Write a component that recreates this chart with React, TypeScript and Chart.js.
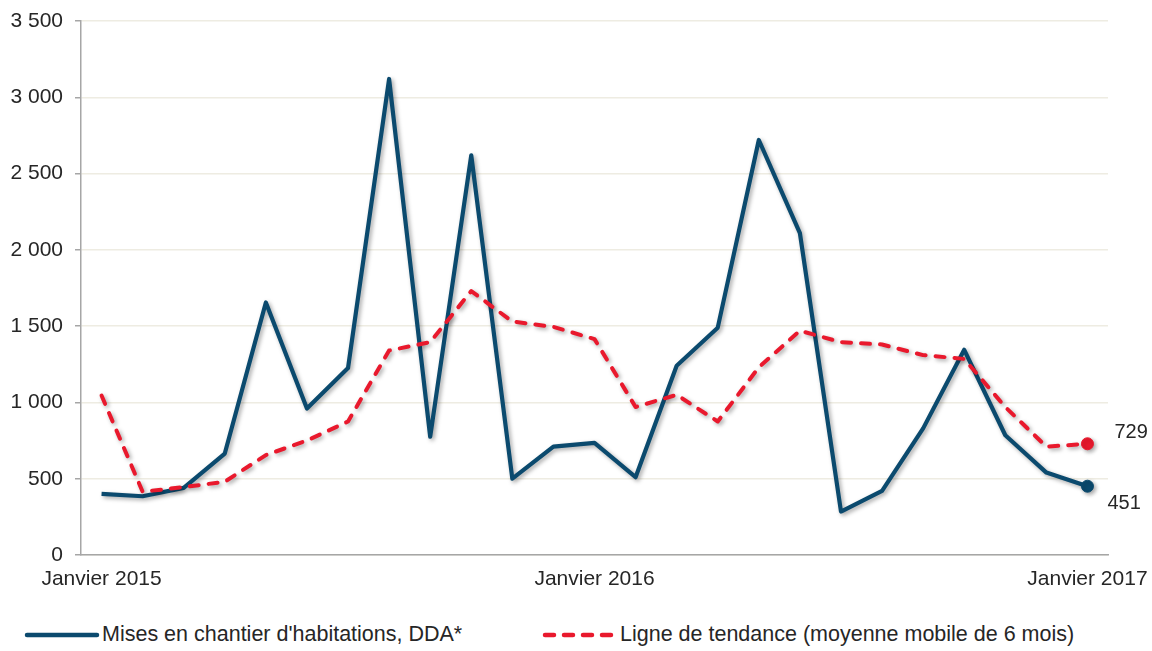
import React, { useEffect, useRef } from "react";
import { Chart, registerables } from "chart.js";

Chart.register(...registerables);

const months: string[] = [
  "Janvier 2015", "Février 2015", "Mars 2015", "Avril 2015", "Mai 2015", "Juin 2015",
  "Juillet 2015", "Août 2015", "Septembre 2015", "Octobre 2015", "Novembre 2015", "Décembre 2015",
  "Janvier 2016", "Février 2016", "Mars 2016", "Avril 2016", "Mai 2016", "Juin 2016",
  "Juillet 2016", "Août 2016", "Septembre 2016", "Octobre 2016", "Novembre 2016", "Décembre 2016",
  "Janvier 2017",
];

const shownTicks: string[] = ["Janvier 2015", "Janvier 2016", "Janvier 2017"];

const misesEnChantier: number[] = [
  400, 385, 440, 665, 1655, 960, 1225, 3120, 775, 2620, 500, 710, 735,
  510, 1240, 1490, 2720, 2110, 285, 420, 830, 1345, 785, 540, 451,
];

const tendance: number[] = [
  1045, 415, 445, 480, 655, 750, 875, 1340, 1395, 1730, 1530, 1495, 1415,
  970, 1050, 875, 1230, 1470, 1395, 1380, 1310, 1285, 970, 710, 729,
];

const seriesNames: string[] = [
  "Mises en chantier d'habitations, DDA*",
  "Ligne de tendance (moyenne mobile de 6 mois)",
];

const BLUE = "#0b4a6e";
const RED = "#e9192d";
const TEXT = "#262626";
const FONT = "'Liberation Sans', Arial, sans-serif";

const fmt = (v: number) => String(v).replace(/\B(?=(\d{3})+(?!\d))/g, " ");

const shadowPlugin = {
  id: "lineShadow",
  beforeDatasetDraw(chart: any) {
    const ctx = chart.ctx;
    ctx.save();
    ctx.shadowColor = "rgba(0,0,0,0.35)";
    ctx.shadowBlur = 4;
    ctx.shadowOffsetX = 2;
    ctx.shadowOffsetY = 2;
  },
  afterDatasetDraw(chart: any) {
    chart.ctx.restore();
  },
};

const endLabelPlugin = {
  id: "endLabels",
  afterDatasetsDraw(chart: any) {
    const ctx = chart.ctx;
    const offsets: { [k: number]: [number, number] } = { 0: [20, 17], 1: [27, -11] };
    ctx.save();
    ctx.font = `20px ${FONT}`;
    ctx.fillStyle = TEXT;
    ctx.textAlign = "left";
    ctx.textBaseline = "middle";
    chart.data.datasets.forEach((ds: any, i: number) => {
      const meta = chart.getDatasetMeta(i);
      const last = meta.data[meta.data.length - 1];
      const v = ds.data[ds.data.length - 1];
      const [dx, dy] = offsets[i];
      ctx.fillText(fmt(v), last.x + dx, last.y + dy);
    });
    ctx.restore();
  },
};

export default function App() {
  const canvasRef = useRef<HTMLCanvasElement | null>(null);

  useEffect(() => {
    document.body.style.margin = "0";
    const canvas = canvasRef.current;
    if (!canvas) return;
    const lastIdx = months.length - 1;
    const chart = new Chart(canvas, {
      type: "line",
      data: {
        labels: months,
        datasets: [
          {
            label: seriesNames[0],
            data: misesEnChantier,
            borderColor: BLUE,
            backgroundColor: BLUE,
            borderWidth: 4.2,
            borderJoinStyle: "round",
            tension: 0,
            pointRadius: (c: any) => (c.dataIndex === lastIdx ? 6 : 0),
            pointHoverRadius: 0,
            pointBackgroundColor: BLUE,
            pointBorderColor: BLUE,
            pointBorderWidth: 1,
            order: 1,
          },
          {
            label: seriesNames[1],
            data: tendance,
            borderColor: RED,
            backgroundColor: RED,
            borderWidth: 4,
            borderDash: [9, 10],
            borderCapStyle: "round",
            borderJoinStyle: "round",
            tension: 0,
            pointRadius: (c: any) => (c.dataIndex === lastIdx ? 6 : 0),
            pointHoverRadius: 0,
            pointBackgroundColor: RED,
            pointBorderColor: RED,
            pointBorderWidth: 1,
            order: 0,
          },
        ],
      },
      options: {
        animation: false,
        responsive: false,
        maintainAspectRatio: false,
        events: [],
        layout: { padding: { top: 21, right: 44, bottom: 0, left: 0 } },
        plugins: {
          legend: { display: false },
          tooltip: { enabled: false },
        },
        scales: {
          x: {
            type: "category",
            offset: true,
            grid: { display: false, drawTicks: false },
            border: { display: true, color: "#a6a6a6", width: 1.5 },
            ticks: {
              autoSkip: false,
              maxRotation: 0,
              minRotation: 0,
              padding: 12,
              color: TEXT,
              font: { family: FONT, size: 21 },
              callback: (_v: any, idx: number) =>
                shownTicks.includes(months[idx]) ? months[idx] : "",
            },
            afterFit: (s: any) => {
              s.height = 45;
              s.paddingLeft = 0;
              s.paddingRight = 0;
            },
          },
          y: {
            min: 0,
            max: 3500,
            grid: {
              color: "#eeece2",
              lineWidth: 1.5,
              drawTicks: true,
              tickLength: 6,
              tickColor: "#a6a6a6",
            },
            border: { display: true, color: "#a6a6a6", width: 1.5 },
            ticks: {
              stepSize: 500,
              padding: 12,
              color: TEXT,
              font: { family: FONT, size: 21 },
              callback: (v: any) => fmt(Number(v)),
            },
            afterFit: (s: any) => {
              s.width = 81;
              s.paddingTop = 0;
              s.paddingBottom = 0;
            },
          },
        },
      },
      plugins: [shadowPlugin, endLabelPlugin],
    } as any);
    return () => chart.destroy();
  }, []);

  const legendText: React.CSSProperties = {
    position: "absolute",
    top: 635,
    transform: "translateY(-50%)",
    fontFamily: FONT,
    fontSize: 21.5,
    color: TEXT,
    whiteSpace: "nowrap",
    lineHeight: 1,
  };

  return (
    <div style={{ position: "relative", width: 1152, height: 651, background: "#fff" }}>
      <canvas ref={canvasRef} width={1152} height={600} style={{ display: "block" }} />
      <svg
        style={{ position: "absolute", left: 24, top: 629 }}
        width={76}
        height={12}
      >
        <line x1={3} y1={6} x2={73} y2={6} stroke={BLUE} strokeWidth={4.5} strokeLinecap="round" />
      </svg>
      <div style={{ ...legendText, left: 102 }}>{seriesNames[0]}</div>
      <svg
        style={{ position: "absolute", left: 540, top: 629 }}
        width={76}
        height={12}
      >
        <line
          x1={5}
          y1={6}
          x2={72}
          y2={6}
          stroke={RED}
          strokeWidth={4.5}
          strokeLinecap="round"
          strokeDasharray="9 10"
        />
      </svg>
      <div style={{ ...legendText, left: 620 }}>{seriesNames[1]}</div>
    </div>
  );
}
